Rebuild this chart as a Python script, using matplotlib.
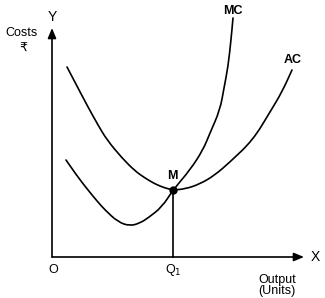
import matplotlib
matplotlib.use("Agg")
import matplotlib.pyplot as plt
from matplotlib.path import Path
from matplotlib.patches import PathPatch
import numpy as np

plt.rcParams['font.family'] = ['Liberation Sans', 'DejaVu Sans']

# Output (x) and cost (y) readings for each curve
ac_q = [15, 26, 36, 46, 55, 70, 83, 93, 103, 113, 121, 133, 148, 163, 178, 201, 218, 230, 240]
ac_c = [190, 169, 150, 132, 117, 99, 86, 79, 73, 69, 67, 68, 73, 82, 95, 117, 145, 165, 187]
mc_q = [14, 25, 36, 45, 53, 66, 78, 88, 96, 110, 121, 138, 151, 158, 168, 172, 176, 179, 181]
mc_c = [97, 81, 67, 56, 47, 35, 31, 34, 39, 50, 67, 87, 107, 124, 147, 169, 190, 217, 239]
m_q, m_c = 121, 67

fig = plt.figure(figsize=(3.25, 2.98), dpi=100)
ax = fig.add_axes([0, 0, 1, 1])
ax.set_xlim(-52, 273)
ax.set_ylim(-41, 257)
ax.axis('off')

def smooth_path(xs, ys):
    pts = np.column_stack([xs, ys]).astype(float)
    verts = [pts[0]]
    codes = [Path.MOVETO]
    for i in range(1, len(pts) - 1):
        mid = (pts[i] + pts[i + 1]) / 2
        verts += [pts[i], mid]
        codes += [Path.CURVE3, Path.CURVE3]
    verts.append(pts[-1])
    codes.append(Path.LINETO)
    return Path(verts, codes)

lw = 1.2
for xs, ys in [(ac_q, ac_c), (mc_q, mc_c)]:
    ax.add_patch(PathPatch(smooth_path(xs, ys), fill=False, lw=lw, color='black',
                           capstyle='round'))

# axes with arrows
ax.annotate('', xy=(0, 229), xytext=(0, 0),
            arrowprops=dict(arrowstyle='-|>,head_length=0.6,head_width=0.25', lw=lw, color='black',
                            shrinkA=0, shrinkB=0))
ax.annotate('', xy=(252, 0), xytext=(0, 0),
            arrowprops=dict(arrowstyle='-|>,head_length=0.6,head_width=0.25', lw=lw, color='black',
                            shrinkA=0, shrinkB=0))

# vertical line at Q1
ax.plot([m_q, m_q], [m_c, 0], color='black', lw=lw)
ax.plot([m_q], [m_c], 'o', color='black', ms=5)

fs = 9
ax.text(0, 240, 'Y', ha='center', va='center', fontsize=fs + 1)
ax.text(263, 0, 'X', ha='center', va='center', fontsize=fs + 1)
ax.text(-30, 224, 'Costs', ha='center', va='center', fontsize=fs)
ax.text(-29, 209, '₹', ha='center', va='center', fontsize=fs, family=['DejaVu Sans'])
ax.text(1, -13, 'O', ha='center', va='center', fontsize=fs)
ax.text(121, -13, 'Q$_1$', ha='center', va='center', fontsize=fs)
ax.text(225, -23, 'Output', ha='center', va='center', fontsize=fs)
ax.text(225, -34, '(Units)', ha='center', va='center', fontsize=fs)
ax.text(181, 246, 'MC', ha='center', va='center', fontsize=fs, fontweight='bold')
ax.text(241, 197, 'AC', ha='center', va='center', fontsize=fs, fontweight='bold')
ax.text(120, 81, 'M', ha='center', va='center', fontsize=fs, fontweight='bold')

fig.savefig('out.png', dpi=100)
